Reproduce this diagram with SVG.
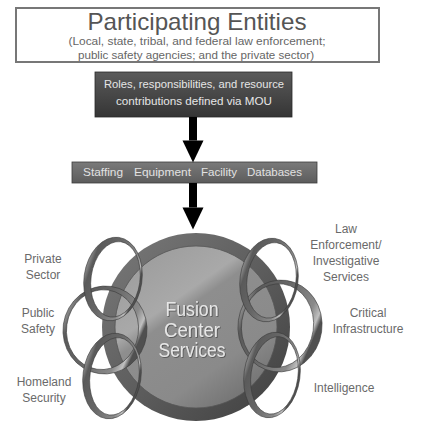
<svg xmlns="http://www.w3.org/2000/svg" width="424" height="442" viewBox="0 0 424 442">
<defs>
  <linearGradient id="darkBox" x1="0" y1="0" x2="0" y2="1">
    <stop offset="0" stop-color="#5a5a5a"/>
    <stop offset="1" stop-color="#353535"/>
  </linearGradient>
  <linearGradient id="barGrad" x1="0" y1="0" x2="0" y2="1">
    <stop offset="0" stop-color="#7a7a7a"/>
    <stop offset="1" stop-color="#5c5c5c"/>
  </linearGradient>
  <linearGradient id="rimGrad" x1="0" y1="0" x2="1" y2="1">
    <stop offset="0" stop-color="#7a7a7a"/>
    <stop offset="0.5" stop-color="#5e5e5e"/>
    <stop offset="1" stop-color="#3e3e3e"/>
  </linearGradient>
  <linearGradient id="diskGrad" x1="0.1" y1="0" x2="0.8" y2="1">
    <stop offset="0" stop-color="#9a9a9a"/>
    <stop offset="0.35" stop-color="#a9a9a9"/>
    <stop offset="0.42" stop-color="#8e8e8e"/>
    <stop offset="0.75" stop-color="#8a8a8a"/>
    <stop offset="1" stop-color="#6e6e6e"/>
  </linearGradient>
  <linearGradient id="ringGrad" x1="0" y1="0" x2="1" y2="0.3">
    <stop offset="0" stop-color="#4a4a4a"/>
    <stop offset="0.08" stop-color="#a8a8a8"/>
    <stop offset="0.2" stop-color="#5a5a5a"/>
    <stop offset="0.5" stop-color="#666"/>
    <stop offset="0.85" stop-color="#8a8a8a"/>
    <stop offset="0.95" stop-color="#c0c0c0"/>
    <stop offset="1" stop-color="#505050"/>
  </linearGradient>
  <filter id="emboss" x="-10%" y="-10%" width="120%" height="130%">
    <feDropShadow dx="0.8" dy="0.8" stdDeviation="0.4" flood-color="#444" flood-opacity="0.9"/>
  </filter>
  <marker id="head" markerUnits="userSpaceOnUse" markerWidth="30" markerHeight="30" refX="0" refY="0" orient="auto" overflow="visible">
    <path d="M0,-10.5 L22,0 L0,10.5 Z" fill="#000"/>
  </marker>
  <style>
    .lbl { font-family: "Liberation Sans", Arial, sans-serif; font-size: 12px; fill: #6a6a6a; text-anchor: middle; }
    .ring { fill: url(#ringGrad); fill-rule: evenodd; stroke: #3a3a3a; stroke-width: 0.6; }
    .wt { font-family: "Liberation Sans", Arial, sans-serif; fill: #e6e6e6; text-anchor: middle; }
    .bar { font-family: "Liberation Sans", Arial, sans-serif; font-size: 11px; fill: #e2e2e2; }
  </style>
</defs>

<g id="participating-entities">
  <rect x="16" y="8" width="363" height="54" fill="#fff" stroke="#777" stroke-width="2"/>
  <text x="197" y="30" font-family="Liberation Sans, Arial, sans-serif" font-size="24" fill="#555" text-anchor="middle" textLength="219" lengthAdjust="spacingAndGlyphs">Participating Entities</text>
  <text x="197" y="45" font-family="Liberation Sans, Arial, sans-serif" font-size="11" fill="#666" text-anchor="middle" textLength="257" lengthAdjust="spacingAndGlyphs">(Local, state, tribal, and federal law enforcement;</text>
  <text x="196" y="59" font-family="Liberation Sans, Arial, sans-serif" font-size="11" fill="#666" text-anchor="middle" textLength="236" lengthAdjust="spacingAndGlyphs">public safety agencies; and the private sector)</text>
</g>

<g id="mou">
  <rect x="95" y="72" width="197" height="45" fill="url(#darkBox)" stroke="#2a2a2a" stroke-width="0.8"/>
  <text class="wt" x="194" y="88" font-size="10.5" textLength="180" lengthAdjust="spacingAndGlyphs">Roles, responsibilities, and resource</text>
  <text class="wt" x="194" y="105" font-size="10.5" textLength="156" lengthAdjust="spacingAndGlyphs">contributions defined via MOU</text>
</g>

<g id="resources">
  <rect x="72" y="162" width="245" height="21" fill="url(#barGrad)" stroke="#3c3c3c" stroke-width="0.8"/>
  <text class="bar" x="83" y="176" textLength="40" lengthAdjust="spacingAndGlyphs">Staffing</text>
  <text class="bar" x="134" y="176" textLength="57" lengthAdjust="spacingAndGlyphs">Equipment</text>
  <text class="bar" x="201" y="176" textLength="36" lengthAdjust="spacingAndGlyphs">Facility</text>
  <text class="bar" x="247" y="176" textLength="55" lengthAdjust="spacingAndGlyphs">Databases</text>
</g>

<g id="connectors">
  <line x1="193" y1="117" x2="193" y2="140.5" stroke="#000" stroke-width="8" marker-end="url(#head)"/>
  <line x1="193" y1="183" x2="193" y2="207.5" stroke="#000" stroke-width="8" marker-end="url(#head)"/>
</g>

<g id="fusion-center">
  <circle cx="196" cy="327" r="94" fill="url(#rimGrad)"/>
  <circle cx="196" cy="327" r="81" fill="url(#diskGrad)" stroke="#555" stroke-width="0.8"/>
  <g font-size="20" class="wt" filter="url(#emboss)">
    <text x="192" y="316" textLength="53" lengthAdjust="spacingAndGlyphs">Fusion</text>
    <text x="192" y="337" textLength="56" lengthAdjust="spacingAndGlyphs">Center</text>
    <text x="192" y="357" textLength="67" lengthAdjust="spacingAndGlyphs">Services</text>
  </g>
</g>

<g id="public-safety">
  <path class="ring" transform="translate(105 330) rotate(8)" d="M-42,0 A42 44 0 1 0 42,0 A42 44 0 1 0 -42,0 Z M-38.5,0 A36 40 0 1 0 33.5,0 A36 40 0 1 0 -38.5,0 Z"/>
  <text class="lbl" x="38" y="317">Public</text>
  <text class="lbl" x="38" y="333">Safety</text>
</g>
<g id="private-sector">
  <path class="ring" transform="translate(113 279) rotate(8)" d="M-29,0 A29 42 0 1 0 29,0 A29 42 0 1 0 -29,0 Z M-22,0 A24.5 38 0 1 0 27,0 A24.5 38 0 1 0 -22,0 Z"/>
  <text class="lbl" x="43" y="263">Private</text>
  <text class="lbl" x="43" y="279">Sector</text>
</g>
<g id="homeland-security">
  <path class="ring" transform="translate(112 376) rotate(8)" d="M-29,0 A29 43 0 1 0 29,0 A29 43 0 1 0 -29,0 Z M-22,0 A24.5 39 0 1 0 27,0 A24.5 39 0 1 0 -22,0 Z"/>
  <text class="lbl" x="44" y="386">Homeland</text>
  <text class="lbl" x="44" y="402">Security</text>
</g>

<g id="critical-infrastructure">
  <path class="ring" transform="translate(280 326) rotate(8)" d="M-42,0 A42 46 0 1 0 42,0 A42 46 0 1 0 -42,0 Z M-38.5,0 A36 42 0 1 0 33.5,0 A36 42 0 1 0 -38.5,0 Z"/>
  <text class="lbl" x="368" y="317">Critical</text>
  <text class="lbl" x="368" y="333">Infrastructure</text>
</g>
<g id="law-enforcement">
  <path class="ring" transform="translate(269 280) rotate(8)" d="M-29,0 A29 42 0 1 0 29,0 A29 42 0 1 0 -29,0 Z M-22,0 A24.5 38 0 1 0 27,0 A24.5 38 0 1 0 -22,0 Z"/>
  <text class="lbl" x="346" y="233">Law</text>
  <text class="lbl" x="346" y="249">Enforcement/</text>
  <text class="lbl" x="346" y="265">Investigative</text>
  <text class="lbl" x="346" y="281">Services</text>
</g>
<g id="intelligence">
  <path class="ring" transform="translate(272 375) rotate(8)" d="M-28,0 A28 43 0 1 0 28,0 A28 43 0 1 0 -28,0 Z M-21,0 A23.5 39 0 1 0 26,0 A23.5 39 0 1 0 -21,0 Z"/>
  <text class="lbl" x="344" y="392">Intelligence</text>
</g>
</svg>
